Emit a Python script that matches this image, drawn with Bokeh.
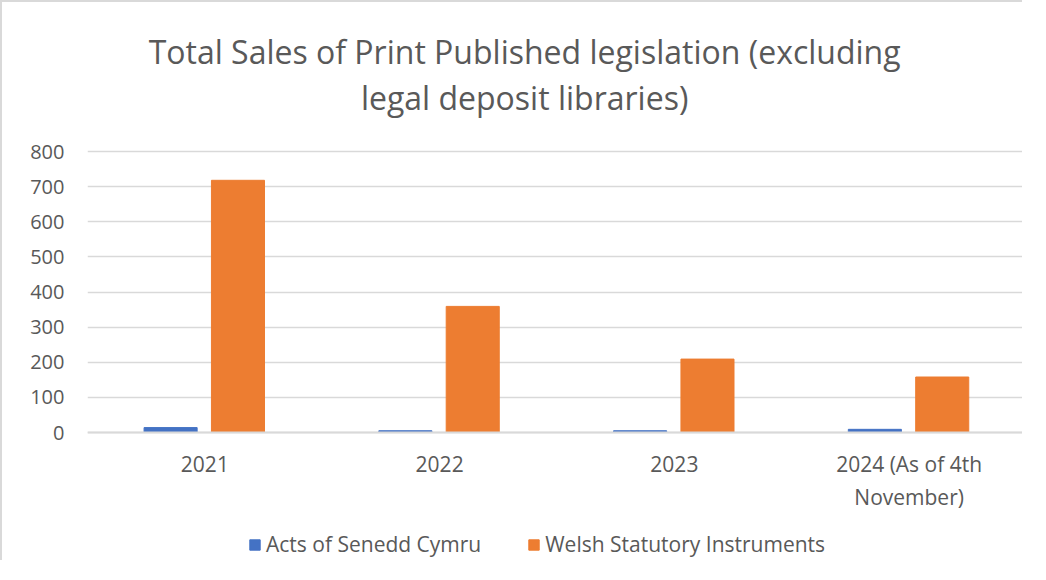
from bokeh.plotting import figure
from bokeh.models import FactorRange, Range1d, Label, Legend, LegendItem, ColumnDataSource
from bokeh.transform import dodge
from bokeh.embed import file_html
from bokeh.resources import INLINE

categories = ["2021", "2022", "2023", "2024 (As of 4th\nNovember)"]
acts_senedd = [14, 5, 5, 9]
welsh_si = [718, 359, 209, 158]
series_names = ["Acts of Senedd Cymru", "Welsh Statutory Instruments"]
title_lines = ["Total Sales of Print Published legislation (excluding", "legal deposit libraries)"]
y_ticks = [0, 100, 200, 300, 400, 500, 600, 700, 800]

BLUE = "#4472C4"
ORANGE = "#ED7D31"
GREY_TEXT = "#595959"
GRID = "#D9D9D9"
FONT = "Open Sans"

src = ColumnDataSource(dict(cat=categories, acts=acts_senedd, wsi=welsh_si))

# frame spans the full height; value axis 0..800 occupies the middle band
W, H = 1022, 560
PX_PER_UNIT = 281 / 800
p = figure(width=W, height=H, x_range=FactorRange(*categories),
           y_range=Range1d(-(H - 425) / PX_PER_UNIT, 800 + 144 / PX_PER_UNIT),
           output_backend="svg", toolbar_location=None,
           min_border_left=79, min_border_right=4, min_border_top=0, min_border_bottom=0)
p.outline_line_color = None
p.background_fill_color = "white"
p.border_fill_color = "white"
p.styles = {"border-top": "2px solid #D9D9D9", "border-left": "2px solid #D9D9D9",
            "padding-top": "5px", "padding-left": "6px"}

r1 = p.vbar(x=dodge("cat", -0.146, range=p.x_range), top="acts", width=0.226, source=src,
            fill_color=BLUE, line_color=BLUE)
r2 = p.vbar(x=dodge("cat", 0.141, range=p.x_range), top="wsi", width=0.226, source=src,
            fill_color=ORANGE, line_color=ORANGE)

p.yaxis.ticker = y_ticks
p.yaxis.axis_line_color = None
p.yaxis.major_tick_line_color = None
p.yaxis.minor_tick_line_color = None
p.yaxis.major_label_text_font = FONT
p.yaxis.major_label_text_font_size = "20px"
p.yaxis.major_label_text_color = GREY_TEXT
p.yaxis.major_label_standoff = 17

p.xaxis.fixed_location = 0
p.xaxis.axis_line_color = GRID
p.xaxis.axis_line_width = 2
p.xaxis.major_tick_line_color = None
p.xaxis.minor_tick_line_color = None
p.xaxis.major_label_text_font = FONT
p.xaxis.major_label_text_font_size = "21px"
p.xaxis.major_label_text_color = GREY_TEXT
p.xaxis.major_label_standoff = 11

p.xgrid.grid_line_color = None
p.ygrid.grid_line_color = GRID
p.ygrid.grid_line_width = 1.5

for txt, yy in zip(title_lines, [1084.7, 953.8]):
    p.add_layout(Label(x=1.862, y=yy, text=txt, text_align="center", text_baseline="alphabetic",
                       text_font=FONT, text_font_size="32px", text_color=GREY_TEXT))

legend = Legend(items=[LegendItem(label=series_names[0], renderers=[r1]),
                       LegendItem(label=series_names[1], renderers=[r2])],
                orientation="horizontal", location=(161, 9),
                padding=0, margin=0, spacing=46, label_standoff=5,
                glyph_width=13, glyph_height=13, label_height=20,
                label_text_font=FONT, label_text_font_size="21px", label_text_color=GREY_TEXT,
                border_line_color=None, background_fill_alpha=0)
p.add_layout(legend, "center")

open("out.html", "w").write(file_html(p, INLINE))
